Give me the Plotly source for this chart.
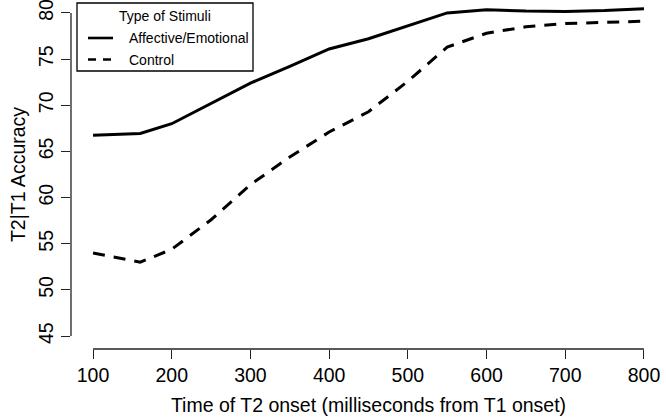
import plotly.graph_objects as go

# Time of T2 onset (ms from T1 onset)
x_affective = [100, 160, 200, 250, 300, 350, 400, 450, 500, 550, 600, 650, 700, 750, 800]
y_affective = [66.75, 66.95, 68.0, 70.2, 72.4, 74.2, 76.1, 77.2, 78.6, 80.0, 80.35, 80.2, 80.15, 80.25, 80.45]

x_control = [100, 160, 200, 250, 300, 350, 400, 450, 500, 550, 600, 650, 700, 750, 800]
y_control = [54.0, 53.0, 54.4, 57.6, 61.4, 64.4, 67.1, 69.3, 72.6, 76.3, 77.8, 78.5, 78.85, 79.0, 79.1]

x_ticks = [100, 200, 300, 400, 500, 600, 700, 800]
y_ticks = [45, 50, 55, 60, 65, 70, 75, 80]

series_names = ["Affective/Emotional", "Control"]
series_dash = ["solid", "12px,9px"]
legend_dash = ["solid", "8px,7px"]
legend_title = "Type of Stimuli"

FONT = "Liberation Sans, Arial, sans-serif"
AX = "#222222"

# plot-area geometry in pixels (used to place the hand-drawn legend)
W, H = 666, 420
ML, MR, MT, MB = 71, 0, 0, 71
PW, PH = W - ML - MR, H - MT - MB


def px_x(p):
    return (p - ML) / PW


def px_y(p):
    return 1 - (p - MT) / PH


fig = go.Figure()
for xs, ys, nm, ds in [(x_affective, y_affective, series_names[0], series_dash[0]),
                       (x_control, y_control, series_names[1], series_dash[1])]:
    fig.add_trace(go.Scatter(x=xs, y=ys, mode="lines", name=nm, showlegend=False,
                             line=dict(color="black", width=3, dash=ds)))

axis_common = dict(showgrid=False, zeroline=False, showline=False,
                   ticks="outside", ticklen=9, tickwidth=1.3, tickcolor=AX,
                   tickfont=dict(family=FONT, size=19.5, color="black"),
                   automargin=False, ticklabeloverflow="allow")

shapes = [
    dict(type="line", xref="paper", yref="y", x0=0, x1=0, y0=y_ticks[0], y1=y_ticks[-1],
         line=dict(color=AX, width=1.3), layer="above"),
    dict(type="line", xref="x", yref="paper", x0=x_ticks[0], x1=x_ticks[-1], y0=0, y1=0,
         line=dict(color=AX, width=1.3), layer="above"),
    # legend box
    dict(type="rect", xref="paper", yref="paper", x0=px_x(77), x1=px_x(253),
         y0=px_y(71), y1=px_y(3), line=dict(color="black", width=1.3),
         fillcolor="white", layer="above"),
]
annotations = [
    dict(text=legend_title, xref="paper", yref="paper", x=px_x(165), y=px_y(16),
         xanchor="center", yanchor="middle", showarrow=False,
         font=dict(family=FONT, size=14, color="black")),
]
for i, (nm, ds) in enumerate(zip(series_names, legend_dash)):
    yy = 38 + 21.5 * i
    shapes.append(dict(type="line", xref="paper", yref="paper", x0=px_x(88), x1=px_x(113),
                       y0=px_y(yy), y1=px_y(yy), line=dict(color="black", width=2.6, dash=ds),
                       layer="above"))
    annotations.append(dict(text=nm, xref="paper", yref="paper", x=px_x(127), y=px_y(yy),
                            xanchor="left", yanchor="middle", showarrow=False,
                            font=dict(family=FONT, size=14, color="black")))

fig.update_layout(
    width=W, height=H,
    margin=dict(l=ML, r=MR, t=MT, b=MB, pad=0),
    paper_bgcolor="white", plot_bgcolor="white",
    font=dict(family=FONT, color="black"),
    showlegend=False,
    xaxis=dict(range=[72, 828], tickvals=x_ticks, ticktext=[str(v) for v in x_ticks],
               title=dict(text="Time of T2 onset (milliseconds from T1 onset)",
                          font=dict(family=FONT, size=19.5), standoff=12),
               **axis_common),
    yaxis=dict(range=[43.6, 81.4], tickvals=y_ticks, ticktext=[str(v) for v in y_ticks],
               tickangle=-90,
               title=dict(text="T2|T1 Accuracy", font=dict(family=FONT, size=19.5), standoff=4),
               **axis_common),
    shapes=shapes,
    annotations=annotations,
)

fig.write_html("out.html", config={"displayModeBar": False},
               post_script="document.body.style.margin='0';document.body.style.overflow='hidden';")
